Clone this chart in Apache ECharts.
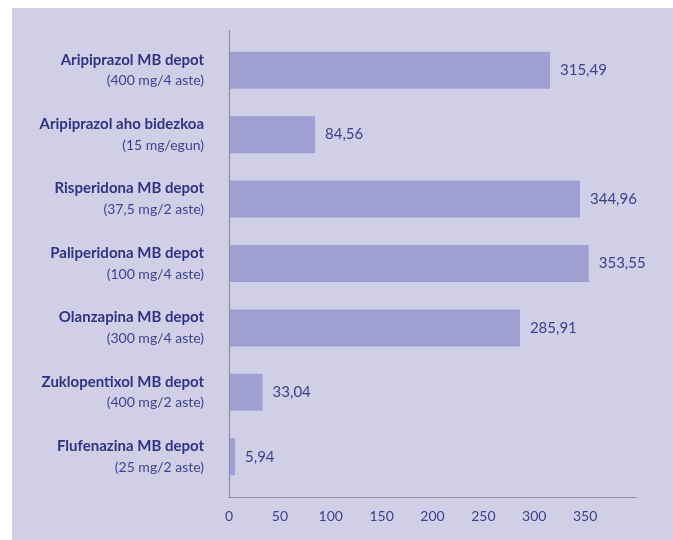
<!DOCTYPE html>
<html>
<head>
<meta charset="utf-8">
<script src="https://cdn.jsdelivr.net/npm/echarts@6/dist/echarts.min.js"></script>
<style>
  html, body { margin: 0; padding: 0; background: #ffffff; }
  #main { width: 673px; height: 540px; }
</style>
</head>
<body>
<div id="main"></div>
<script>
// datuak
var names = ["Aripiprazol MB depot", "Aripiprazol aho bidezkoa", "Risperidona MB depot",
    "Paliperidona MB depot", "Olanzapina MB depot", "Zuklopentixol MB depot", "Flufenazina MB depot"];
var doses = ["(400 mg/4 aste)", "(15 mg/egun)", "(37,5 mg/2 aste)", "(100 mg/4 aste)",
    "(300 mg/4 aste)", "(400 mg/2 aste)", "(25 mg/2 aste)"];
var values = [315.49, 84.56, 344.96, 353.55, 285.91, 33.04, 5.94];
var xTicks = [0, 50, 100, 150, 200, 250, 300, 350, 400];

var fontFam = "Lato, 'Liberation Sans', sans-serif";
var textColor = '#2f3386';

var categories = [];
for (var i = 0; i < names.length; i++) {
    categories.push(names[i] + '\n' + doses[i]);
}

var chart = echarts.init(document.getElementById('main'));
var option = {
    backgroundColor: '#ffffff',
    animation: false,
    graphic: [
        {
            type: 'rect', z: -10, silent: true,
            shape: { x: 12, y: 8, width: 661, height: 532 },
            style: { fill: '#d1cfe6' }
        },
        {
            // eje vertical, un poco mas largo que la rejilla
            type: 'line', z: 10, silent: true,
            shape: { x1: 229.5, y1: 30, x2: 229.5, y2: 497 },
            style: { stroke: '#8e8ea0', lineWidth: 1.2 }
        }
    ],
    grid: { left: 229, right: 37, top: 38, bottom: 51 },
    xAxis: {
        type: 'value',
        min: xTicks[0],
        max: xTicks[xTicks.length - 1],
        interval: 50,
        offset: 8,
        axisLine: { show: true, lineStyle: { color: '#8e8ea0', width: 1.2 } },
        axisTick: { show: false },
        splitLine: { show: false },
        axisLabel: {
            showMaxLabel: false,
            margin: 12,
            color: '#3a3f92',
            fontFamily: fontFam,
            fontSize: 14
        }
    },
    yAxis: {
        type: 'category',
        inverse: true,
        data: categories,
        axisLine: { show: false },
        axisTick: { show: false },
        axisLabel: {
            margin: 25,
            formatter: function (v) {
                var p = v.split('\n');
                return '{a|' + p[0] + '}\n{b|' + p[1] + '}';
            },
            rich: {
                a: { fontFamily: fontFam, fontSize: 15, fontWeight: 'bold', color: textColor, lineHeight: 21, align: 'right' },
                b: { fontFamily: fontFam, fontSize: 14, color: '#3e4394', lineHeight: 21, align: 'right' }
            }
        }
    },
    series: [{
        type: 'bar',
        data: values,
        barWidth: 37,
        itemStyle: { color: '#a09fd1' },
        label: {
            show: true,
            position: 'right',
            distance: 10,
            color: '#3a3f92',
            fontFamily: fontFam,
            fontSize: 15,
            formatter: function (p) {
                return p.value.toFixed(2).replace('.', ',');
            }
        }
    }]
};
chart.setOption(option);
</script>
</body>
</html>
